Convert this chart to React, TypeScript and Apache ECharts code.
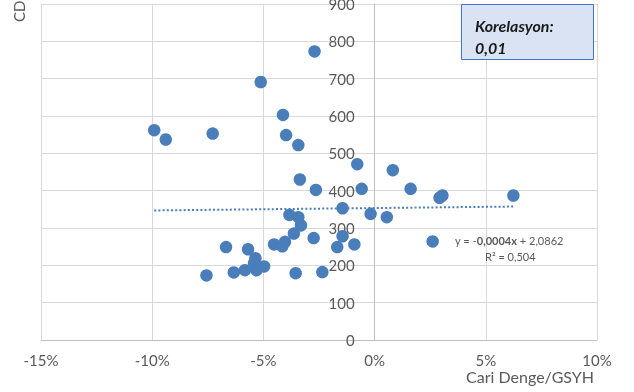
import React, { useEffect, useRef } from 'react';
import * as echarts from 'echarts';

// Cari Denge/GSYH (%) vs CDS
const xValues = [
  -9.91, -9.39, -7.28, -5.12, -2.70, -4.12, -3.98, -3.43, -0.78, 0.82,
  -3.36, -2.64, -0.58, 1.62, 2.92, 3.05, 6.24, -1.44, -3.83, -3.43,
  -3.31, -0.18, 0.55, -3.63, -2.74, -1.44, -4.52, -4.15, -4.03, -6.68,
  -5.69, -1.68, -0.91, -5.36, -5.42, -4.97, -5.31, -5.83, -6.33, -7.56,
  -3.55, -2.35, 2.61,
];
const yValues = [
  562, 537, 553, 691, 773, 603, 549, 522, 471, 455,
  430, 402, 405, 405, 381, 387, 387, 353, 335, 329,
  307, 338, 329, 285, 273, 278, 256, 251, 263, 249,
  243, 249, 256, 219, 206, 197, 187, 187, 181, 173,
  179, 182, 264,
];
const trendX = [-9.91, 6.24];
const trendY = [347, 357.5];

const xAxisMin = -15;
const xAxisMax = 10;
const xAxisStep = 5;
const yAxisMin = 0;
const yAxisMax = 900;
const yAxisStep = 100;

const yTitle = 'CDS';
const xTitle = 'Cari Denge/GSYH';
const corrLabel = 'Korelasyon:';
const corrValue = '0,01';
const eqParts = ['y = -', '0,0004x', ' + 2,0862'];
const r2Text = 'R² = 0,504';

const FONT = 'Lato, "Noto Sans", sans-serif';
const GRAY = '#595959';
const BLUE = '#4a7ebb';

const GRID_LEFT = 41;
const GRID_RIGHT = 37;
const CHART_W = 634;

export default function App() {
  const ref = useRef<HTMLDivElement>(null);
  useEffect(() => {
    if (!ref.current) return;
    const chart = echarts.init(ref.current, undefined, { renderer: 'svg' });
    const points = xValues.map((x, i) => [x, yValues[i]]);
    const trend = trendX.map((x, i) => [x, trendY[i]]);
    const plotW = CHART_W - GRID_LEFT - GRID_RIGHT;
    // shift the vertical axis (line + labels) onto x = 0
    const zeroOffset = ((0 - xAxisMin) / (xAxisMax - xAxisMin)) * plotW;
    chart.setOption({
      animation: false,
      grid: {
        left: GRID_LEFT,
        right: GRID_RIGHT,
        top: 4,
        bottom: 52,
        containLabel: false,
        outerBoundsMode: 'none',
      },
      xAxis: {
        type: 'value',
        min: xAxisMin,
        max: xAxisMax,
        interval: xAxisStep,
        axisLine: { show: true, onZero: false, lineStyle: { color: '#bfbfbf', width: 1 } },
        axisTick: { show: false },
        axisLabel: {
          formatter: (v: number) => `${v}%`,
          color: GRAY,
          fontSize: 15,
          fontFamily: FONT,
          margin: 12,
        },
        splitLine: { show: true, lineStyle: { color: '#d9d9d9', width: 1 } },
      },
      yAxis: {
        type: 'value',
        min: yAxisMin,
        max: yAxisMax,
        interval: yAxisStep,
        position: 'left',
        offset: -zeroOffset,
        axisLine: { show: true, onZero: false, lineStyle: { color: '#bfbfbf', width: 1 } },
        axisTick: { show: false },
        axisLabel: {
          color: GRAY,
          fontSize: 15,
          fontFamily: FONT,
          margin: 20,
        },
        splitLine: { show: true, lineStyle: { color: '#d9d9d9', width: 1 } },
      },
      series: [
        {
          type: 'line',
          data: trend,
          symbol: 'none',
          lineStyle: { color: BLUE, width: 2, type: [2, 2.2] },
          z: 1,
        },
        {
          type: 'scatter',
          data: points,
          symbol: 'circle',
          symbolSize: 12.5,
          itemStyle: { color: BLUE, opacity: 1 },
          z: 3,
        },
      ],
      graphic: [
        {
          type: 'text',
          x: 19,
          y: 22,
          rotation: Math.PI / 2,
          style: {
            text: yTitle,
            fill: GRAY,
            font: `15px ${FONT}`,
            textAlign: 'left',
            textVerticalAlign: 'middle',
          },
        },
        {
          type: 'text',
          right: 40,
          top: 368,
          style: {
            text: xTitle,
            fill: GRAY,
            font: `16px ${FONT}`,
          },
        },
        {
          type: 'rect',
          shape: { x: 461.5, y: 4.5, width: 132, height: 55 },
          style: { fill: '#dae3f3', stroke: '#4472c4', lineWidth: 1 },
          z: 10,
        },
        {
          type: 'text',
          x: 475,
          y: 25,
          z: 11,
          style: {
            text: corrLabel,
            fill: '#1a1a1a',
            font: `italic bold 16px ${FONT}`,
            textVerticalAlign: 'middle',
          },
        },
        {
          type: 'text',
          x: 475,
          y: 47,
          z: 11,
          style: {
            text: corrValue,
            fill: '#1a1a1a',
            font: `italic bold 16px ${FONT}`,
            textVerticalAlign: 'middle',
          },
        },
        {
          type: 'text',
          x: 455,
          y: 240,
          z: 11,
          style: {
            text: `{a|${eqParts[0]}}{b|${eqParts[1]}}{a|${eqParts[2]}}`,
            textVerticalAlign: 'middle',
            rich: {
              a: { fill: GRAY, color: GRAY, fontSize: 11, fontFamily: FONT },
              b: { fill: GRAY, color: GRAY, fontSize: 11, fontFamily: FONT, fontWeight: 'bold' },
            },
          },
        },
        {
          type: 'text',
          x: 485,
          y: 256,
          z: 11,
          style: {
            text: r2Text,
            fill: GRAY,
            font: `11px ${FONT}`,
            textVerticalAlign: 'middle',
          },
        },
      ],
    });
    return () => chart.dispose();
  }, []);
  return (
    <div
      ref={ref}
      style={{ position: 'fixed', left: 0, top: 0, width: 634, height: 392 }}
    />
  );
}
